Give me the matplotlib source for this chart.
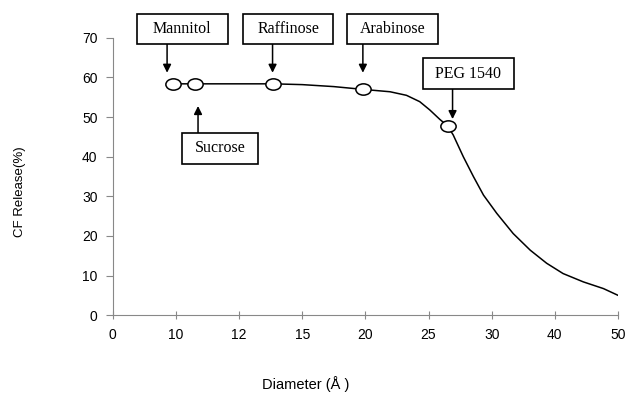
import matplotlib.pyplot as plt
from matplotlib.path import Path
from matplotlib.transforms import Affine2D
from matplotlib.patches import Rectangle

# tick labels sit at equal spacing on the axis
x_labels = ['0', '10', '12', '15', '20', '25', '30', '40', '50']
y_ticks = [0, 10, 20, 30, 40, 50, 60, 70]

# release curve (x in tick-position units)
curve_x = [0.95, 1.3, 2.0, 2.54, 3.0, 3.5, 3.96, 4.39, 4.65, 4.86, 5.02, 5.18,
           5.30, 5.39, 5.55, 5.71, 5.87, 6.08, 6.34, 6.61, 6.87, 7.13, 7.45,
           7.77, 8.0]
curve_y = [58.4, 58.4, 58.4, 58.4, 58.2, 57.7, 57.0, 56.4, 55.5, 53.9, 51.8, 49.4,
           47.8, 45.5, 40.0, 35.0, 30.3, 25.7, 20.6, 16.4, 13.1, 10.5, 8.4,
           6.7, 5.0]

# marked solutes
names = ['Mannitol', 'Sucrose', 'Raffinose', 'Arabinose', 'PEG 1540']
pt_x = [0.95, 1.3, 2.54, 3.96, 5.30]
pt_y = [58.4, 58.4, 58.4, 57.0, 47.8]

plt.rcParams['font.family'] = 'Liberation Sans'
fig = plt.figure(figsize=(6.3, 4.03), dpi=100)
ax = fig.add_axes([0.179, 0.218, 0.802, 0.688])

ax.plot(curve_x, curve_y, color='black', lw=1.1, zorder=2,
        solid_joinstyle='round')

# slightly flattened circle marker
ell = Path.unit_circle().transformed(Affine2D().scale(1.35, 1.0))
ax.plot(pt_x, pt_y, linestyle='none', marker=ell, markersize=11,
        markerfacecolor='white', markeredgecolor='black', markeredgewidth=1.1,
        zorder=3, clip_on=False)

# label boxes: (x0, x1, y0, y1, arrow x, arrow start y, arrow tip y)
boxes = {
    'Mannitol':  (0.38, 1.82, 68.5, 76.1, 0.86, 68.5, 61.2),
    'Sucrose':   (1.09, 2.30, 38.2, 46.0, 1.35, 46.0, 52.8),
    'Raffinose': (2.06, 3.49, 68.5, 76.1, 2.53, 68.5, 61.2),
    'Arabinose': (3.71, 5.15, 68.5, 76.1, 3.96, 68.5, 61.2),
    'PEG 1540':  (4.91, 6.35, 57.1, 64.9, 5.38, 57.1, 49.5),
}
for n in names:
    x0, x1, y0, y1, axx, ys, yt = boxes[n]
    ax.add_patch(Rectangle((x0, y0), x1 - x0, y1 - y0, fc='white', ec='black',
                           lw=1.2, zorder=4, clip_on=False))
    ax.text((x0 + x1) / 2, (y0 + y1) / 2, n, ha='center', va='center',
            fontsize=11.5, family='Liberation Serif', zorder=5, clip_on=False)
    ax.annotate('', xy=(axx, yt), xytext=(axx, ys), annotation_clip=False,
                arrowprops=dict(arrowstyle='-|>', color='black', lw=1.1,
                                mutation_scale=12, shrinkA=0, shrinkB=0))

ax.set_xlim(0, 8)
ax.set_ylim(0, 70)
ax.set_xticks(range(len(x_labels)))
ax.set_xticklabels(x_labels)
ax.set_yticks(y_ticks)

for s in ['top', 'right']:
    ax.spines[s].set_visible(False)
for s in ['left', 'bottom']:
    ax.spines[s].set_color('#888888')
    ax.spines[s].set_linewidth(0.8)
ax.tick_params(axis='y', direction='out', length=5, color='#888888', labelsize=10, pad=6)
ax.tick_params(axis='x', direction='inout', length=6, color='#888888', labelsize=10, pad=6)

fig.text(0.032, 0.525, 'CF Release(%)', rotation=90, ha='center', va='center', fontsize=9.5)
fig.text(0.485, 0.047, 'Diameter (Å )', ha='center', va='center', fontsize=10.5)

fig.savefig('out.png', dpi=100)
